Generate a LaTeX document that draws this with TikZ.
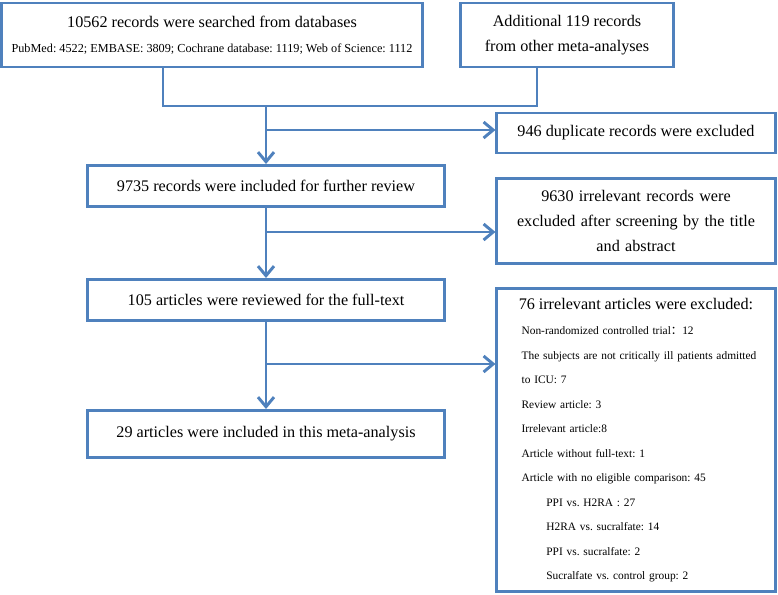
\documentclass[tikz,border=0pt]{standalone}
\usepackage{fontspec}
\setmainfont{Liberation Serif}
\newfontfamily\cjk{Noto Sans CJK SC}
\usetikzlibrary{arrows.meta}
\definecolor{flowblue}{RGB}{79,129,189}
\frenchspacing

\begin{document}
\begin{tikzpicture}[x=0.025cm, y=-0.025cm,
    box/.style={draw=flowblue, line width=2.1pt, align=center, inner sep=0pt,
      font=\fontsize{11.5}{17.5}\selectfont},
    link/.style={draw=flowblue, line width=2.1pt},
    arr/.style={link, -{Straight Barb[length=2.4mm, width=4mm]}}]
  \useasboundingbox (0,0) rectangle (778,594);

  % top row
  \node [box, minimum width=10.5cm, minimum height=1.6cm] (search) at (212,35)
    {10562 records were searched from databases\\
     {\fontsize{8.7}{10}\selectfont PubMed: 4522; EMBASE: 3809; Cochrane database: 1119; Web of Science: 1112}};
  \node [box, minimum width=5.3cm, minimum height=1.6cm] (extra) at (567,35)
    {Additional 119 records\\ from other meta-analyses};

  % main column
  \node [box, minimum width=8.9cm, minimum height=1.025cm] (incl) at (266,186) {9735 records were included for further review};
  \node [box, minimum width=8.9cm, minimum height=1.025cm] (full) at (266,300) {105 articles were reviewed for the full-text};
  \node [box, minimum width=8.9cm, minimum height=1.175cm] (final) at (266,434) {29 articles were included in this meta-analysis};

  % exclusions
  \node [box, minimum width=6.95cm, minimum height=1cm] (dup) at (636,133) {946 duplicate records were excluded};
  \node [box, text width=6.95cm, minimum height=2.125cm] (screen) at (636,221)
    {9630 irrelevant records were\\ excluded after screening by the title\\ and abstract};
  \node [box, text width=6.35cm, inner xsep=0.3cm, minimum height=7.575cm, align=left,
    font=\fontsize{8.1}{17.4}\selectfont] (excl) at (636,440)
    {\hfill{\fontsize{11.5}{13}\selectfont 76 irrelevant articles were excluded:}\hfill\null\\[1pt]
     \hspace*{9pt}Non-randomized controlled trial{\cjk ：}12\\
     \hspace*{9pt}The subjects are not critically ill patients admitted\\
     \hspace*{9pt}to ICU: 7\\
     \hspace*{9pt}Review article: 3\\
     \hspace*{9pt}Irrelevant article:8\\
     \hspace*{9pt}Article without full-text: 1\\
     \hspace*{9pt}Article with no eligible comparison: 45\\
     \hspace*{26.6pt}PPI vs. H2RA : 27\\
     \hspace*{26.6pt}H2RA vs. sucralfate: 14\\
     \hspace*{26.6pt}PPI vs. sucralfate: 2\\
     \hspace*{26.6pt}Sucralfate vs. control group: 2};

  % connectors
  \coordinate (jl) at (163,106);
  \coordinate (jr) at (537,106);
  \coordinate (join) at (266,106);
  \coordinate (b1) at (266,130);
  \coordinate (b2) at (266,232);
  \coordinate (b3) at (266,364);
  \draw [link] (jl |- search.south) -- (jl) -- (jr) -- (jr |- extra.south);
  \draw [arr] (join) -- (incl.north);
  \draw [arr] (b1) -- (dup.west |- b1);
  \draw [arr] (incl) -- (full);
  \draw [arr] (b2) -- (screen.west |- b2);
  \draw [arr] (full) -- (final);
  \draw [arr] (b3) -- (excl.west |- b3);
\end{tikzpicture}
\end{document}
